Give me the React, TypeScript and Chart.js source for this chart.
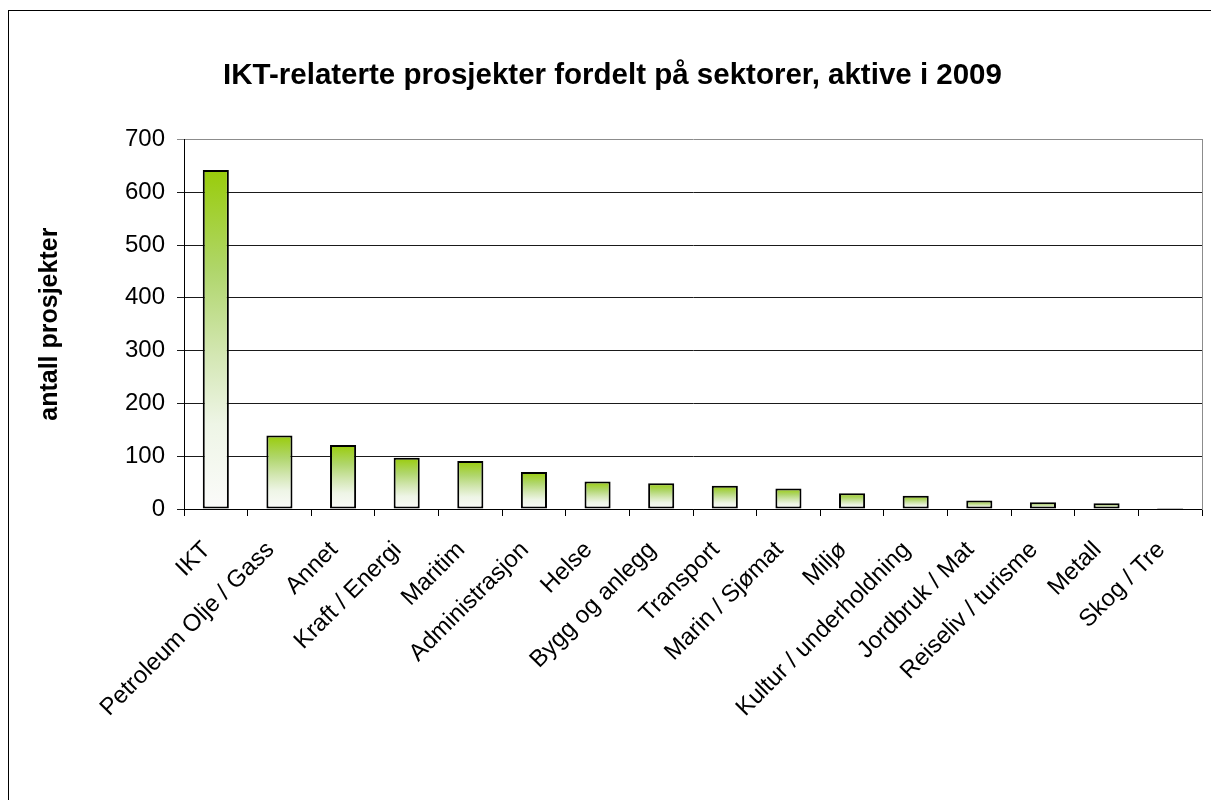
import React, { useEffect, useRef } from "react";
import { Chart, registerables } from "chart.js";

Chart.register(...registerables);

const TITLE = "IKT-relaterte prosjekter fordelt på sektorer, aktive i 2009";
const Y_TITLE = "antall prosjekter";

const categories = [
  "IKT",
  "Petroleum Olje / Gass",
  "Annet",
  "Kraft / Energi",
  "Maritim",
  "Administrasjon",
  "Helse",
  "Bygg og anlegg",
  "Transport",
  "Marin / Sjømat",
  "Miljø",
  "Kultur / underholdning",
  "Jordbruk / Mat",
  "Reiseliv / turisme",
  "Metall",
  "Skog / Tre",
];

const projectCounts = [642, 139, 121, 97, 91, 70, 52, 49, 44, 39, 30, 25, 16, 13, 11, 2];

const yTicks = [0, 100, 200, 300, 400, 500, 600, 700];

const FONT = "'Liberation Sans', Arial, Helvetica, sans-serif";

const frame = {
  id: "frame",
  beforeDraw(chart: any) {
    const ctx = chart.ctx;
    ctx.save();
    ctx.fillStyle = "#ffffff";
    ctx.fillRect(0, 0, chart.width, chart.height);
    ctx.strokeStyle = "#000000";
    ctx.lineWidth = 1;
    ctx.strokeRect(8.5, 10.5, 1400, 1000);
    ctx.restore();
  },
};

export default function App() {
  const ref = useRef<HTMLCanvasElement | null>(null);

  useEffect(() => {
    if (!ref.current) return;
    const chart = new Chart(ref.current, {
      type: "bar",
      data: {
        labels: categories,
        datasets: [
          {
            data: projectCounts,
            backgroundColor: (c: any) => {
              const ch = c.chart;
              const ys = ch.scales && ch.scales.y;
              if (!ys || !ch.chartArea || typeof c.raw !== "number") return "#99cc00";
              const top = ys.getPixelForValue(c.raw);
              const bottom = ys.getPixelForValue(0);
              if (!isFinite(top) || !isFinite(bottom) || bottom - top < 1) return "#cfe6a0";
              const g = ch.ctx.createLinearGradient(0, top, 0, bottom);
              g.addColorStop(0, "rgb(153,204,10)");
              g.addColorStop(0.3, "rgb(176,214,108)");
              g.addColorStop(0.55, "rgb(212,231,180)");
              g.addColorStop(0.75, "rgb(238,245,230)");
              g.addColorStop(1, "rgb(251,251,250)");
              return g;
            },
            borderColor: "#000000",
            borderWidth: 2,
            borderSkipped: false,
            barPercentage: 0.41,
            categoryPercentage: 1,
          },
        ],
      },
      options: {
        animation: false,
        responsive: false,
        maintainAspectRatio: false,
        devicePixelRatio: 1,
        layout: { padding: { left: 14, right: 0, top: 0, bottom: 0 } },
        plugins: {
          legend: { display: false },
          tooltip: { enabled: false },
          title: {
            display: true,
            text: TITLE,
            color: "#000000",
            font: { family: FONT, size: 29.5, weight: "bold", lineHeight: 1.2 },
            padding: { top: 58, bottom: 46 },
          },
        },
        scales: {
          x: {
            grid: {
              drawOnChartArea: false,
              drawTicks: true,
              tickLength: 7,
              color: "#000000",
              offset: true,
            },
            border: { display: true, color: "#000000", width: 1 },
            ticks: {
              autoSkip: false,
              minRotation: 45,
              maxRotation: 45,
              padding: 20,
              labelOffset: -9,
              color: "#000000",
              font: { family: FONT, size: 24 },
            },
            afterFit: (s: any) => {
              s.height = 291;
            },
          },
          y: {
            min: 0,
            max: 700,
            afterBuildTicks: (s: any) => {
              s.ticks = yTicks.map((v) => ({ value: v }));
            },
            grid: {
              color: (c: any) => (c.tick && c.tick.value === 700 ? "#8c8c8c" : "#1a1a1a"),
              lineWidth: 1,
              tickLength: 7,
              drawTicks: true,
            },
            border: { display: true, color: "#000000", width: 1 },
            ticks: {
              padding: 12,
              color: "#000000",
              font: { family: FONT, size: 24 },
            },
            title: {
              display: true,
              text: Y_TITLE,
              color: "#000000",
              font: { family: FONT, size: 25, weight: "bold", lineHeight: 1.2 },
              padding: { top: 21, bottom: 0 },
            },
            afterFit: (s: any) => {
              s.width = 170;
            },
          },
          y2: {
            type: "linear",
            position: "right",
            display: true,
            grid: { drawOnChartArea: false, drawTicks: false },
            border: { display: true, color: "#8c8c8c", width: 1 },
            ticks: { display: false },
            afterFit: (s: any) => {
              s.width = 9;
            },
          },
        },
      } as any,
      plugins: [frame],
    });
    return () => chart.destroy();
  }, []);

  return (
    <div style={{ position: "fixed", left: 0, top: 0, width: 1211, height: 800, background: "#fff" }}>
      <canvas ref={ref} width={1211} height={800} style={{ width: 1211, height: 800, display: "block" }} />
    </div>
  );
}
